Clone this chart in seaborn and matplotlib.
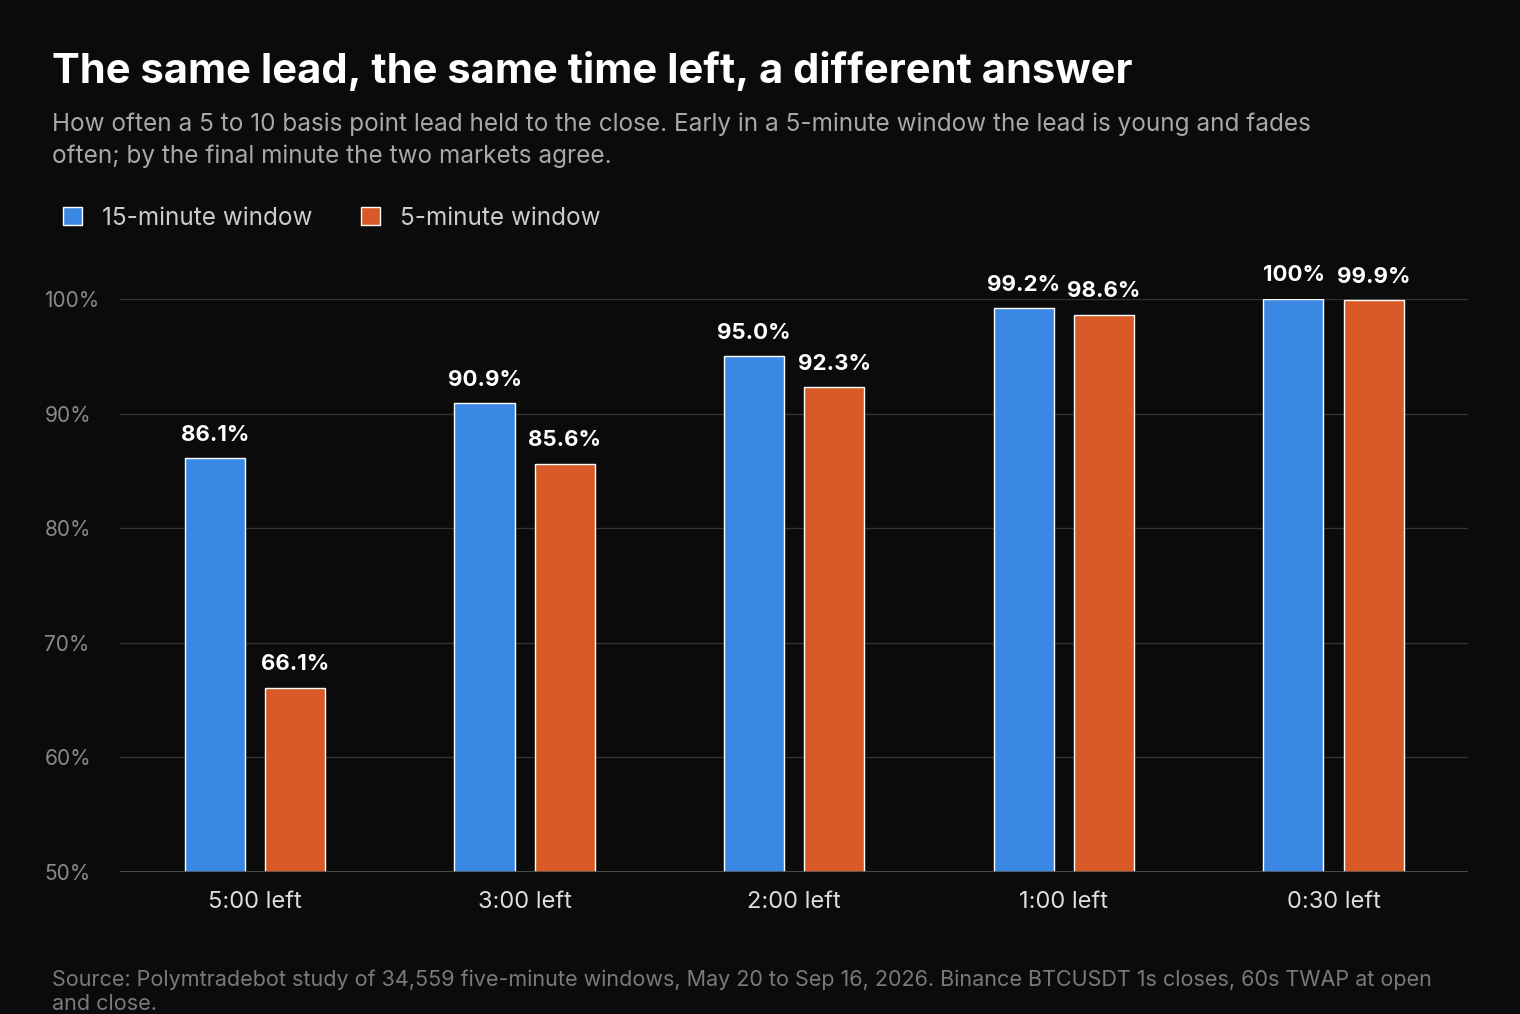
import matplotlib
matplotlib.use("Agg")
import matplotlib.pyplot as plt
import seaborn as sns
import pandas as pd
from matplotlib.patches import Patch

categories = ["5:00 left", "3:00 left", "2:00 left", "1:00 left", "0:30 left"]
win15 = [86.1, 90.9, 95.0, 99.2, 100.0]
win5 = [66.1, 85.6, 92.3, 98.6, 99.9]
labels15 = ["86.1%", "90.9%", "95.0%", "99.2%", "100%"]
labels5 = ["66.1%", "85.6%", "92.3%", "98.6%", "99.9%"]
series = ["15-minute window", "5-minute window"]
colors = ["#3a88e4", "#d95a27"]

sns.set_theme(style="dark")
plt.rcParams['font.family'] = ['Inter', 'DejaVu Sans']
bg = "#0b0b0b"
df = pd.DataFrame({
    "cat": categories * 2,
    "val": win15 + win5,
    "series": [series[0]] * 5 + [series[1]] * 5,
})

fig = plt.figure(figsize=(15.2, 10.14), dpi=100, facecolor=bg)
ax = fig.add_axes([0.079, 0.140, 0.887, 0.565], facecolor=bg)
sns.barplot(data=df, x="cat", y="val", hue="series", palette=colors,
            width=0.594, gap=0.25, ax=ax, legend=False, saturation=1,
            bottom=0)
ax.set_ylim(50, 100)
ax.set_xlim(-0.5, 4.5)
ax.set_yticks([50, 60, 70, 80, 90, 100])
ax.set_yticklabels(["50%", "60%", "70%", "80%", "90%", "100%"], color="#8a8a8a", fontsize=15)
ax.tick_params(axis="y", pad=4, length=0)
for lab in ax.get_yticklabels():
    lab.set_horizontalalignment("left")
    lab.set_x(-0.052)
ax.tick_params(axis="x", colors="#dddddd", labelsize=17, length=0, pad=14)
ax.set_xlabel(""); ax.set_ylabel("")
ax.grid(axis="y", color="#333333", linewidth=1)
ax.set_axisbelow(True)
for s in ax.spines.values():
    s.set_visible(False)
ax.axhline(50, color="#555555", linewidth=1.2)

for i, (a, b) in enumerate(zip(win15, win5)):
    ax.text(i - 0.148, a + 1.2, labels15[i], ha="center", va="bottom", color="white",
            fontsize=16, fontweight="bold", clip_on=False)
    ax.text(i + 0.148, b + 1.2, labels5[i], ha="center", va="bottom", color="white",
            fontsize=16, fontweight="bold", clip_on=False)

fig.text(0.034, 0.930, "The same lead, the same time left, a different answer", color="white",
         fontsize=30, fontweight="bold", va="center")
fig.text(0.034, 0.862, "How often a 5 to 10 basis point lead held to the close. Early in a 5-minute window the lead is young and fades\noften; by the final minute the two markets agree.",
         color="#a8a8a8", fontsize=17.5, va="center", linespacing=1.45)
handles = [Patch(facecolor=c, label=s) for c, s in zip(colors, series)]
fig.legend(handles=handles, loc="center left", bbox_to_anchor=(0.027, 0.785), ncol=2, frameon=False,
           labelcolor="#cccccc", fontsize=17.5, handlelength=0.8, handleheight=0.8,
           columnspacing=2.0, handletextpad=0.8)
fig.text(0.034, 0.022, "Source: Polymtradebot study of 34,559 five-minute windows, May 20 to Sep 16, 2026. Binance BTCUSDT 1s closes, 60s TWAP at open\nand close.",
         color="#7a7a7a", fontsize=15.5, va="center", linespacing=1.3)
fig.savefig("out.png", dpi=100, facecolor=bg)
